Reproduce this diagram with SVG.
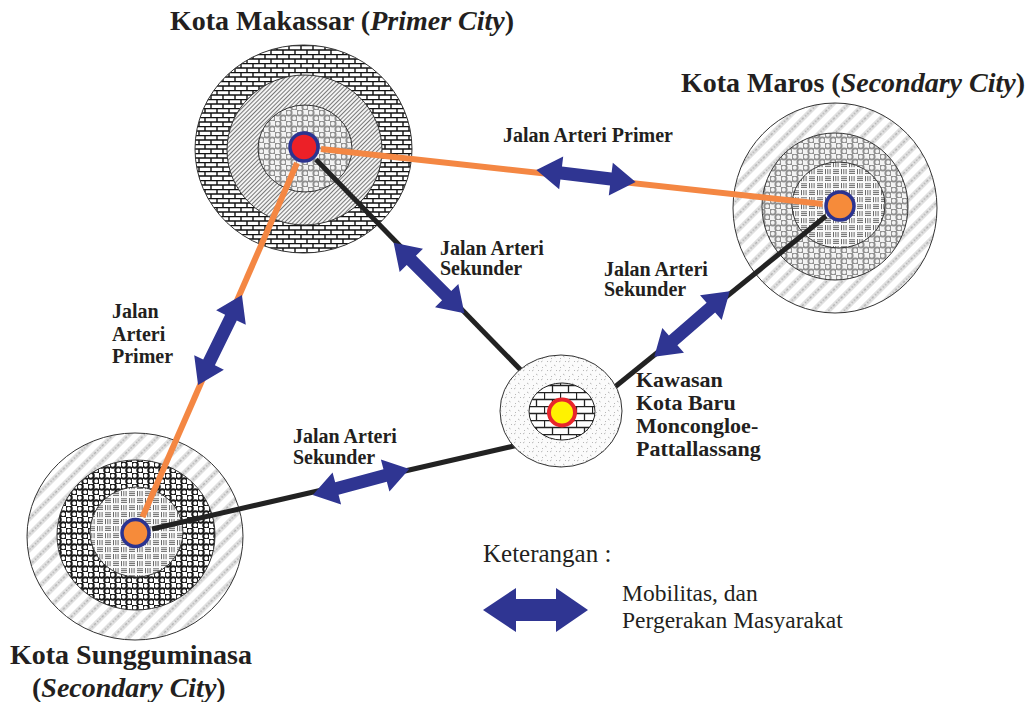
<svg xmlns="http://www.w3.org/2000/svg" xmlns:xlink="http://www.w3.org/1999/xlink" width="1036" height="702" viewBox="0 0 1036 702">
<style>
.ring{stroke:#333;stroke-width:1}
.t{font-family:"Liberation Serif","Times New Roman",serif;fill:#231f20}
.title{font-size:28px;font-weight:bold}
.lbl{font-size:20px;font-weight:bold}
.kw{font-size:22px;font-weight:bold}
.leg{font-size:25px}
.leg2{font-size:23.5px}
.arr{fill:#2f3592}
.orange{stroke:#f48743;stroke-width:6;fill:none}
.black{stroke:#222;stroke-width:5;fill:none}
.dotO{fill:#f68b3a;stroke:#2b3390;stroke-width:3.5}
.dotR{fill:#ec2027;stroke:#2b3390;stroke-width:3.5}
</style>
<defs>
<pattern id="brickD" width="12" height="9" patternUnits="userSpaceOnUse">
<rect width="12" height="9" fill="#fff"/>
<path d="M0,0.5H12M0,5H12M1,0.5V5M7,5V9.5" stroke="#111" stroke-width="1.4" fill="none"/>
</pattern>
<pattern id="hatch" width="3" height="3" patternUnits="userSpaceOnUse" patternTransform="rotate(45)">
<rect width="3" height="3" fill="#f4f4f4"/>
<path d="M1.5,0V3" stroke="#6a6a6a" stroke-width="0.9"/>
</pattern>
<pattern id="ringG" width="11" height="11" patternUnits="userSpaceOnUse">
<rect width="11" height="11" fill="#f3f3f3"/>
<circle cx="2.75" cy="2.75" r="2.9" fill="none" stroke="#8f8f8f" stroke-width="1.9"/>
<circle cx="8.25" cy="8.25" r="2.9" fill="none" stroke="#8f8f8f" stroke-width="1.9"/>
</pattern>
<pattern id="ringD" width="11" height="11" patternUnits="userSpaceOnUse">
<rect width="11" height="11" fill="#fff"/>
<circle cx="2.75" cy="2.75" r="3" fill="none" stroke="#1a1a1a" stroke-width="2.1"/>
<circle cx="8.25" cy="8.25" r="3" fill="none" stroke="#1a1a1a" stroke-width="2.1"/>
</pattern>
<pattern id="dash" width="16" height="14" patternUnits="userSpaceOnUse">
<rect width="16" height="14" fill="#fafafa"/>
<path d="M1,1.8H7M1,3.6H7M1,5.4H7M9.5,1V6.2M11.8,1V6.2M14.1,1V6.2M1.5,8V13.2M3.8,8V13.2M6.1,8V13.2M9,8.8H15M9,10.6H15M9,12.4H15" stroke="#6a6a6a" stroke-width="1" fill="none"/>
</pattern>
<pattern id="stripe" width="11" height="11" patternUnits="userSpaceOnUse" patternTransform="rotate(45)">
<rect width="11" height="11" fill="#fff"/>
<rect width="5" height="11" fill="#e2e2e2"/>
<path d="M2.5,0V11" stroke="#b0b0b0" stroke-width="1.6" stroke-dasharray="1.5 1.8"/>
</pattern>
<pattern id="speck" width="9" height="9" patternUnits="userSpaceOnUse">
<rect width="9" height="9" fill="#fbfbfb"/>
<path d="M1,2l1.5,-1M5,5l1.5,1M2,7l1,1M7,1l1,1" stroke="#9a9a9a" stroke-width="0.7" fill="none"/>
</pattern>
<pattern id="brickL" width="16" height="14" patternUnits="userSpaceOnUse">
<rect width="16" height="14" fill="#fff"/>
<path d="M0,0.5H16M0,7.5H16M0.5,0.5V7.5M8.5,7.5V14.5" stroke="#222" stroke-width="1.3" fill="none"/>
</pattern>
<path id="dbl" d="M-50,0L-25,-16.5L-25,-6.5L25,-6.5L25,-16.5L50,0L25,16.5L25,6.5L-25,6.5L-25,16.5Z"/>
</defs>
<rect width="1036" height="702" fill="#fff"/>

<g id="node-makassar">
<ellipse class="ring" cx="303.5" cy="149" rx="108.5" ry="104" fill="url(#brickD)"/>
<ellipse class="ring" cx="304.5" cy="150" rx="77.5" ry="75" fill="url(#hatch)"/>
<ellipse class="ring" cx="305" cy="148.5" rx="47" ry="43.5" fill="url(#ringG)"/>
<circle class="dotR" cx="304" cy="147" r="14"/>
</g>

<g id="node-maros">
<ellipse class="ring" cx="835" cy="208" rx="102" ry="105" fill="url(#stripe)"/>
<ellipse class="ring" cx="835" cy="206.5" rx="73" ry="73.5" fill="url(#ringG)"/>
<ellipse class="ring" cx="838.5" cy="205" rx="46.5" ry="43" fill="url(#dash)"/>
<circle class="dotO" cx="840" cy="206" r="14"/>
</g>

<g id="node-sungguminasa">
<ellipse class="ring" cx="135" cy="536.5" rx="108" ry="103.5" fill="url(#stripe)"/>
<ellipse class="ring" cx="136" cy="535" rx="79" ry="75" fill="url(#ringD)"/>
<ellipse class="ring" cx="136.5" cy="532" rx="46.5" ry="45" fill="url(#dash)"/>
<circle class="dotO" cx="135.5" cy="533" r="13.5"/>
</g>

<g id="connectors">
<line class="orange" x1="321" y1="148.9" x2="822.6" y2="204"/>
<line class="orange" x1="297" y1="163" x2="142.5" y2="517"/>
<line class="black" x1="316" y1="159.5" x2="545" y2="395"/>
<line class="black" x1="826" y1="216" x2="600" y2="399"/>
<line class="black" x1="152" y1="529" x2="540" y2="440"/>
<use href="#dbl" class="arr" transform="translate(586,176) rotate(7)"/>
<use href="#dbl" class="arr" transform="translate(429,278) rotate(45)"/>
<use href="#dbl" class="arr" transform="translate(692,324) rotate(-41)"/>
<use href="#dbl" class="arr" transform="translate(220,340) rotate(-64)"/>
<use href="#dbl" class="arr" transform="translate(361,482) rotate(-15)"/>
</g>

<g id="node-moncongloe">
<ellipse class="ring" cx="561" cy="411" rx="61" ry="56" fill="url(#speck)"/>
<ellipse cx="562" cy="411.5" rx="33" ry="28.5" fill="url(#brickL)" stroke="#222" stroke-width="1"/>
<circle cx="562" cy="412.5" r="13" fill="#fff200" stroke="#e8262b" stroke-width="4"/>
</g>

<g id="titles">
<text class="t title" x="342" y="30" text-anchor="middle">Kota Makassar (<tspan font-style="italic">Primer City</tspan>)</text>
<text class="t title" x="853" y="92" text-anchor="middle">Kota Maros (<tspan font-style="italic">Secondary City</tspan>)</text>
<text class="t title" x="10" y="664">Kota Sungguminasa</text>
<text class="t title" x="32" y="697">(<tspan font-style="italic">Secondary City</tspan>)</text>
</g>

<g id="labels">
<text class="t lbl" x="503" y="142">Jalan Arteri Primer</text>
<text class="t lbl" x="440" y="255">Jalan Arteri</text>
<text class="t lbl" x="440" y="275">Sekunder</text>
<text class="t lbl" x="604" y="276">Jalan Arteri</text>
<text class="t lbl" x="604" y="296">Sekunder</text>
<text class="t lbl" x="112" y="318">Jalan</text>
<text class="t lbl" x="112" y="341">Arteri</text>
<text class="t lbl" x="112" y="363">Primer</text>
<text class="t lbl" x="293" y="443">Jalan Arteri</text>
<text class="t lbl" x="293" y="464">Sekunder</text>
<text class="t kw" x="636" y="387">Kawasan</text>
<text class="t kw" x="636" y="410">Kota Baru</text>
<text class="t kw" x="636" y="433">Moncongloe-</text>
<text class="t kw" x="636" y="456">Pattallassang</text>
</g>

<g id="legend">
<text class="t leg" x="483" y="562">Keterangan :</text>
<path class="arr" d="M483,610L516,588L516,599L556,599L556,588L588,610L556,632L556,621L516,621L516,632Z"/>
<text class="t leg2" x="622" y="601">Mobilitas, dan</text>
<text class="t leg2" x="622" y="628">Pergerakan Masyarakat</text>
</g>
</svg>
